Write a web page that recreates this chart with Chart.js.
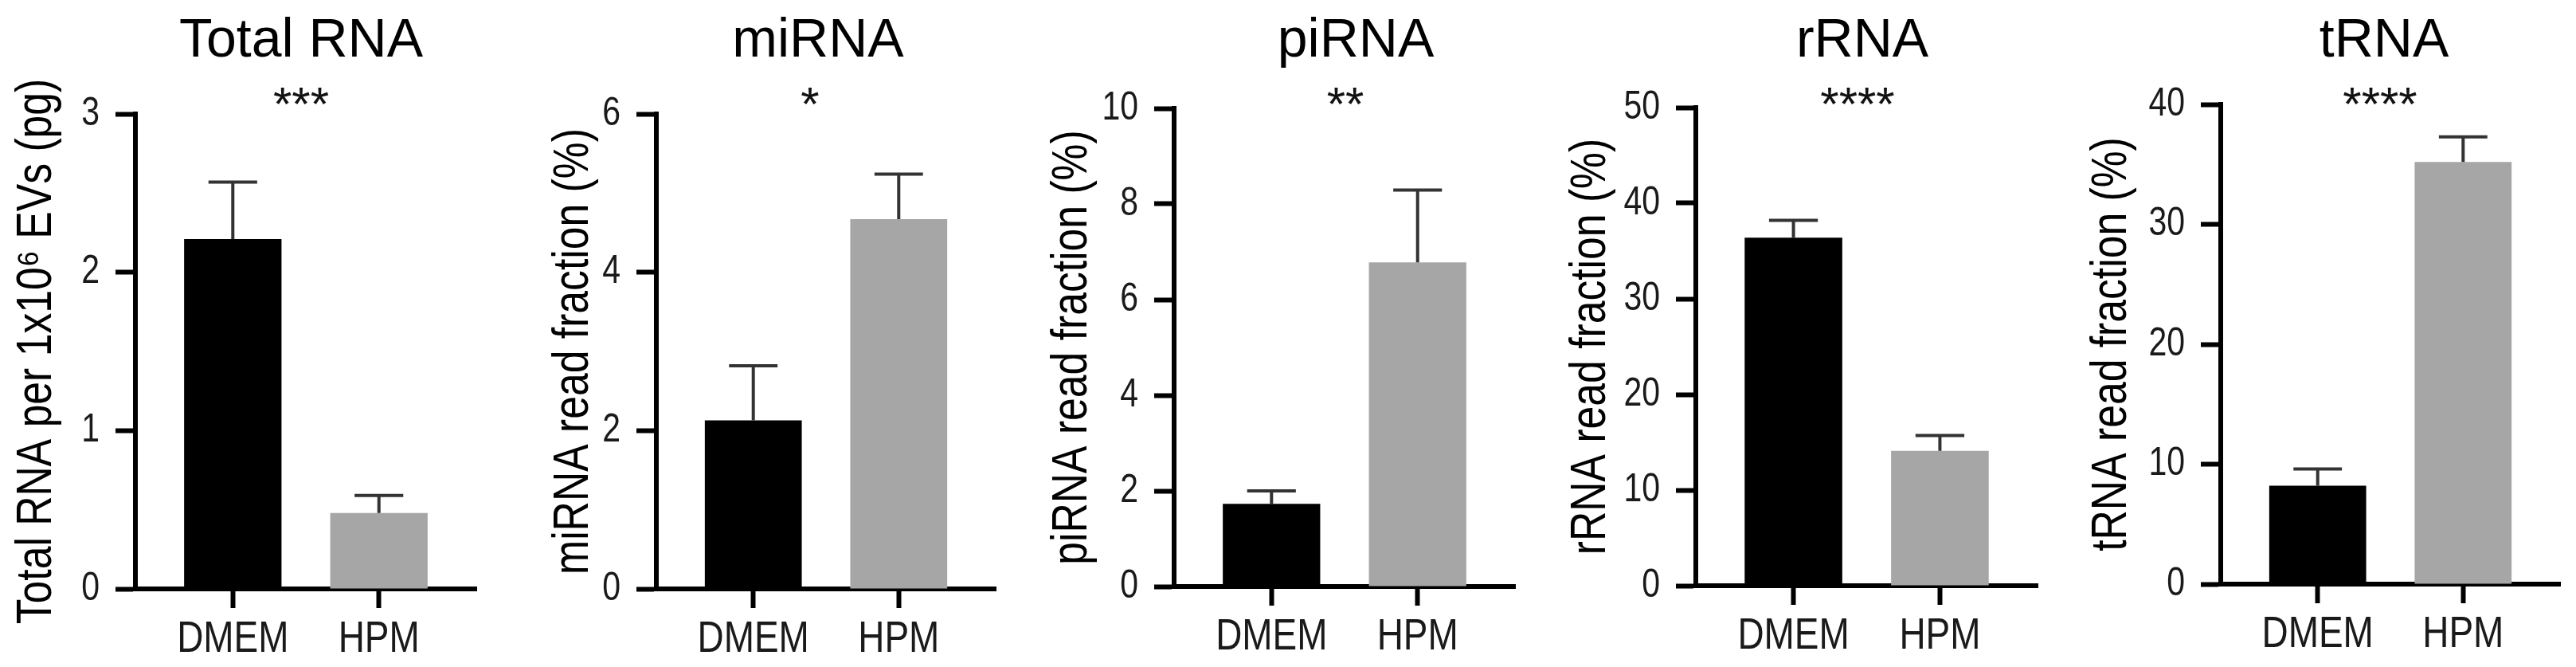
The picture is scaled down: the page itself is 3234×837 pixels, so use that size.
<!DOCTYPE html>
<html>
<head>
<meta charset="utf-8">
<script src="https://cdn.jsdelivr.net/npm/chart.js@4.4.1/dist/chart.umd.min.js"></script>
<style>
  html, body { margin: 0; padding: 0; background: #fff; }
  body { width: 3234px; height: 837px; position: relative; overflow: hidden; }
  canvas { position: absolute; top: 0; }
</style>
</head>
<body>
<script>
const groups = ['DMEM', 'HPM']
const barColors = ['#000000', '#a6a6a6']

const panelTitles = ['Total RNA', 'miRNA', 'piRNA', 'rRNA', 'tRNA']
const yTitles = [
  'Total RNA per 1x10\u2076 EVs (pg)',
  'miRNA read fraction (%)',
  'piRNA read fraction (%)',
  'rRNA read fraction (%)',
  'tRNA read fraction (%)'
]
const signif = ['***', '*', '**', '****', '****']

// mean and upper SD for DMEM / HPM
const totalMean = [2.21, 0.48]
const totalErr = [0.36, 0.11]
const miMean = [2.13, 4.67]
const miErr = [0.69, 0.57]
const piMean = [1.73, 6.78]
const piErr = [0.27, 1.51]
const rMean = [36.4, 14.1]
const rErr = [1.8, 1.6]
const tMean = [8.2, 35.2]
const tErr = [1.4, 2.1]

const means = [totalMean, miMean, piMean, rMean, tMean]
const errs = [totalErr, miErr, piErr, rErr, tErr]
const yMax = [3, 6, 10, 50, 40]
const yStep = [1, 2, 2, 10, 10]

// where each panel sits on the page
const boxes = [
  {left: 10, width: 600, axisX: 170, top: 143, bottom: 739, titleX: 378, starX: 378},
  {left: 684, width: 578, axisX: 824, top: 143, bottom: 739, titleX: 1027, starX: 1017},
  {left: 1310, width: 604, axisX: 1474, top: 136, bottom: 736, titleX: 1702, starX: 1689},
  {left: 1961, width: 609, axisX: 2129, top: 135, bottom: 735, titleX: 2338, starX: 2332},
  {left: 2615, width: 611, axisX: 2788, top: 131, bottom: 733, titleX: 2993, starX: 2988}
]

const regular = '"Liberation Sans", Arial, sans-serif'
// the axis text in the figure is set in a narrow face, squeeze it along the baseline
const squeeze = 0.82

function squashed(ctx, text, px, py, rot) {
  ctx.save()
  ctx.translate(px, py)
  ctx.rotate(rot)
  ctx.scale(squeeze, 1)
  ctx.fillText(text, 0, 0)
  ctx.restore()
}

const errorBars = {
  id: 'errorBars',
  afterDatasetsDraw(chart, args, opts) {
    const ctx = chart.ctx
    const meta = chart.getDatasetMeta(0)
    const y = chart.scales.y
    ctx.save()
    ctx.strokeStyle = '#333'
    ctx.lineWidth = 4
    meta.data.forEach((bar, i) => {
      const top = y.getPixelForValue(opts.mean[i] + opts.err[i])
      const half = bar.width / 4
      ctx.beginPath()
      ctx.moveTo(bar.x, bar.y)
      ctx.lineTo(bar.x, top)
      ctx.moveTo(bar.x - half, top)
      ctx.lineTo(bar.x + half, top)
      ctx.stroke()
    })
    ctx.restore()
  }
}

const axisText = {
  id: 'axisText',
  afterDraw(chart, args, o) {
    const ctx = chart.ctx
    const {x, y} = chart.scales
    const area = chart.chartArea
    ctx.save()
    ctx.fillStyle = '#1a1a1a'

    ctx.font = '50px ' + regular
    ctx.textAlign = 'right'
    ctx.textBaseline = 'middle'
    y.ticks.forEach((t, i) => {
      squashed(ctx, String(t.value), area.left - 25 - 20, y.getPixelForTick(i), 0)
    })

    ctx.font = '56px ' + regular
    ctx.textAlign = 'center'
    ctx.textBaseline = 'alphabetic'
    x.ticks.forEach((t, i) => {
      squashed(ctx, groups[i], x.getPixelForTick(i), area.bottom + 79, 0)
    })

    ctx.fillStyle = '#000'
    ctx.font = '63px ' + regular
    ctx.textBaseline = 'middle'
    squashed(ctx, o.yTitle, o.yTitleX, (area.top + area.bottom) / 2, -Math.PI / 2)

    ctx.font = '68px ' + regular
    ctx.textBaseline = 'alphabetic'
    ctx.fillText(o.title, o.titleX, 71)
    ctx.fillStyle = '#111'
    ctx.font = '60px ' + regular
    ctx.fillText(o.stars, o.starX, 151)
    ctx.restore()
  }
}

boxes.forEach((b, p) => {
  const cv = document.createElement('canvas')
  cv.width = b.width
  cv.height = 837
  cv.style.left = b.left + 'px'
  document.body.appendChild(cv)

  new Chart(cv, {
    type: 'bar',
    data: {
      datasets: [{
        data: groups.map((g, i) => ({x: i + 1, y: means[p][i]})),
        backgroundColor: barColors,
        borderWidth: 0,
        categoryPercentage: 2 / 3,
        barPercentage: 1
      }]
    },
    options: {
      responsive: false,
      animation: false,
      layout: {
        padding: {left: 0, right: 12, top: b.top, bottom: 0}
      },
      plugins: {
        legend: {display: false},
        tooltip: {enabled: false},
        errorBars: {mean: means[p], err: errs[p]},
        axisText: {
          title: panelTitles[p],
          stars: signif[p],
          yTitle: yTitles[p],
          yTitleX: 37,
          titleX: b.titleX - b.left,
          starX: b.starX - b.left
        }
      },
      scales: {
        x: {
          type: 'linear',
          min: 1 / 3,
          max: 8 / 3,
          offset: false,
          afterBuildTicks: s => { s.ticks = groups.map((g, i) => ({value: i + 1})) },
          afterFit: s => { s.height = 837 - b.bottom },
          grid: {offset: false, drawOnChartArea: false, tickLength: 24, tickWidth: 6, color: '#000'},
          border: {display: true, width: 6, color: '#000'},
          ticks: {display: false}
        },
        y: {
          min: 0,
          max: yMax[p],
          afterFit: s => { s.width = b.axisX - b.left },
          grid: {drawOnChartArea: false, tickLength: 25, tickWidth: 6, color: '#000'},
          border: {display: true, width: 6, color: '#000'},
          ticks: {display: false, stepSize: yStep[p]}
        }
      }
    },
    plugins: [errorBars, axisText]
  })
})
</script>
</body>
</html>
